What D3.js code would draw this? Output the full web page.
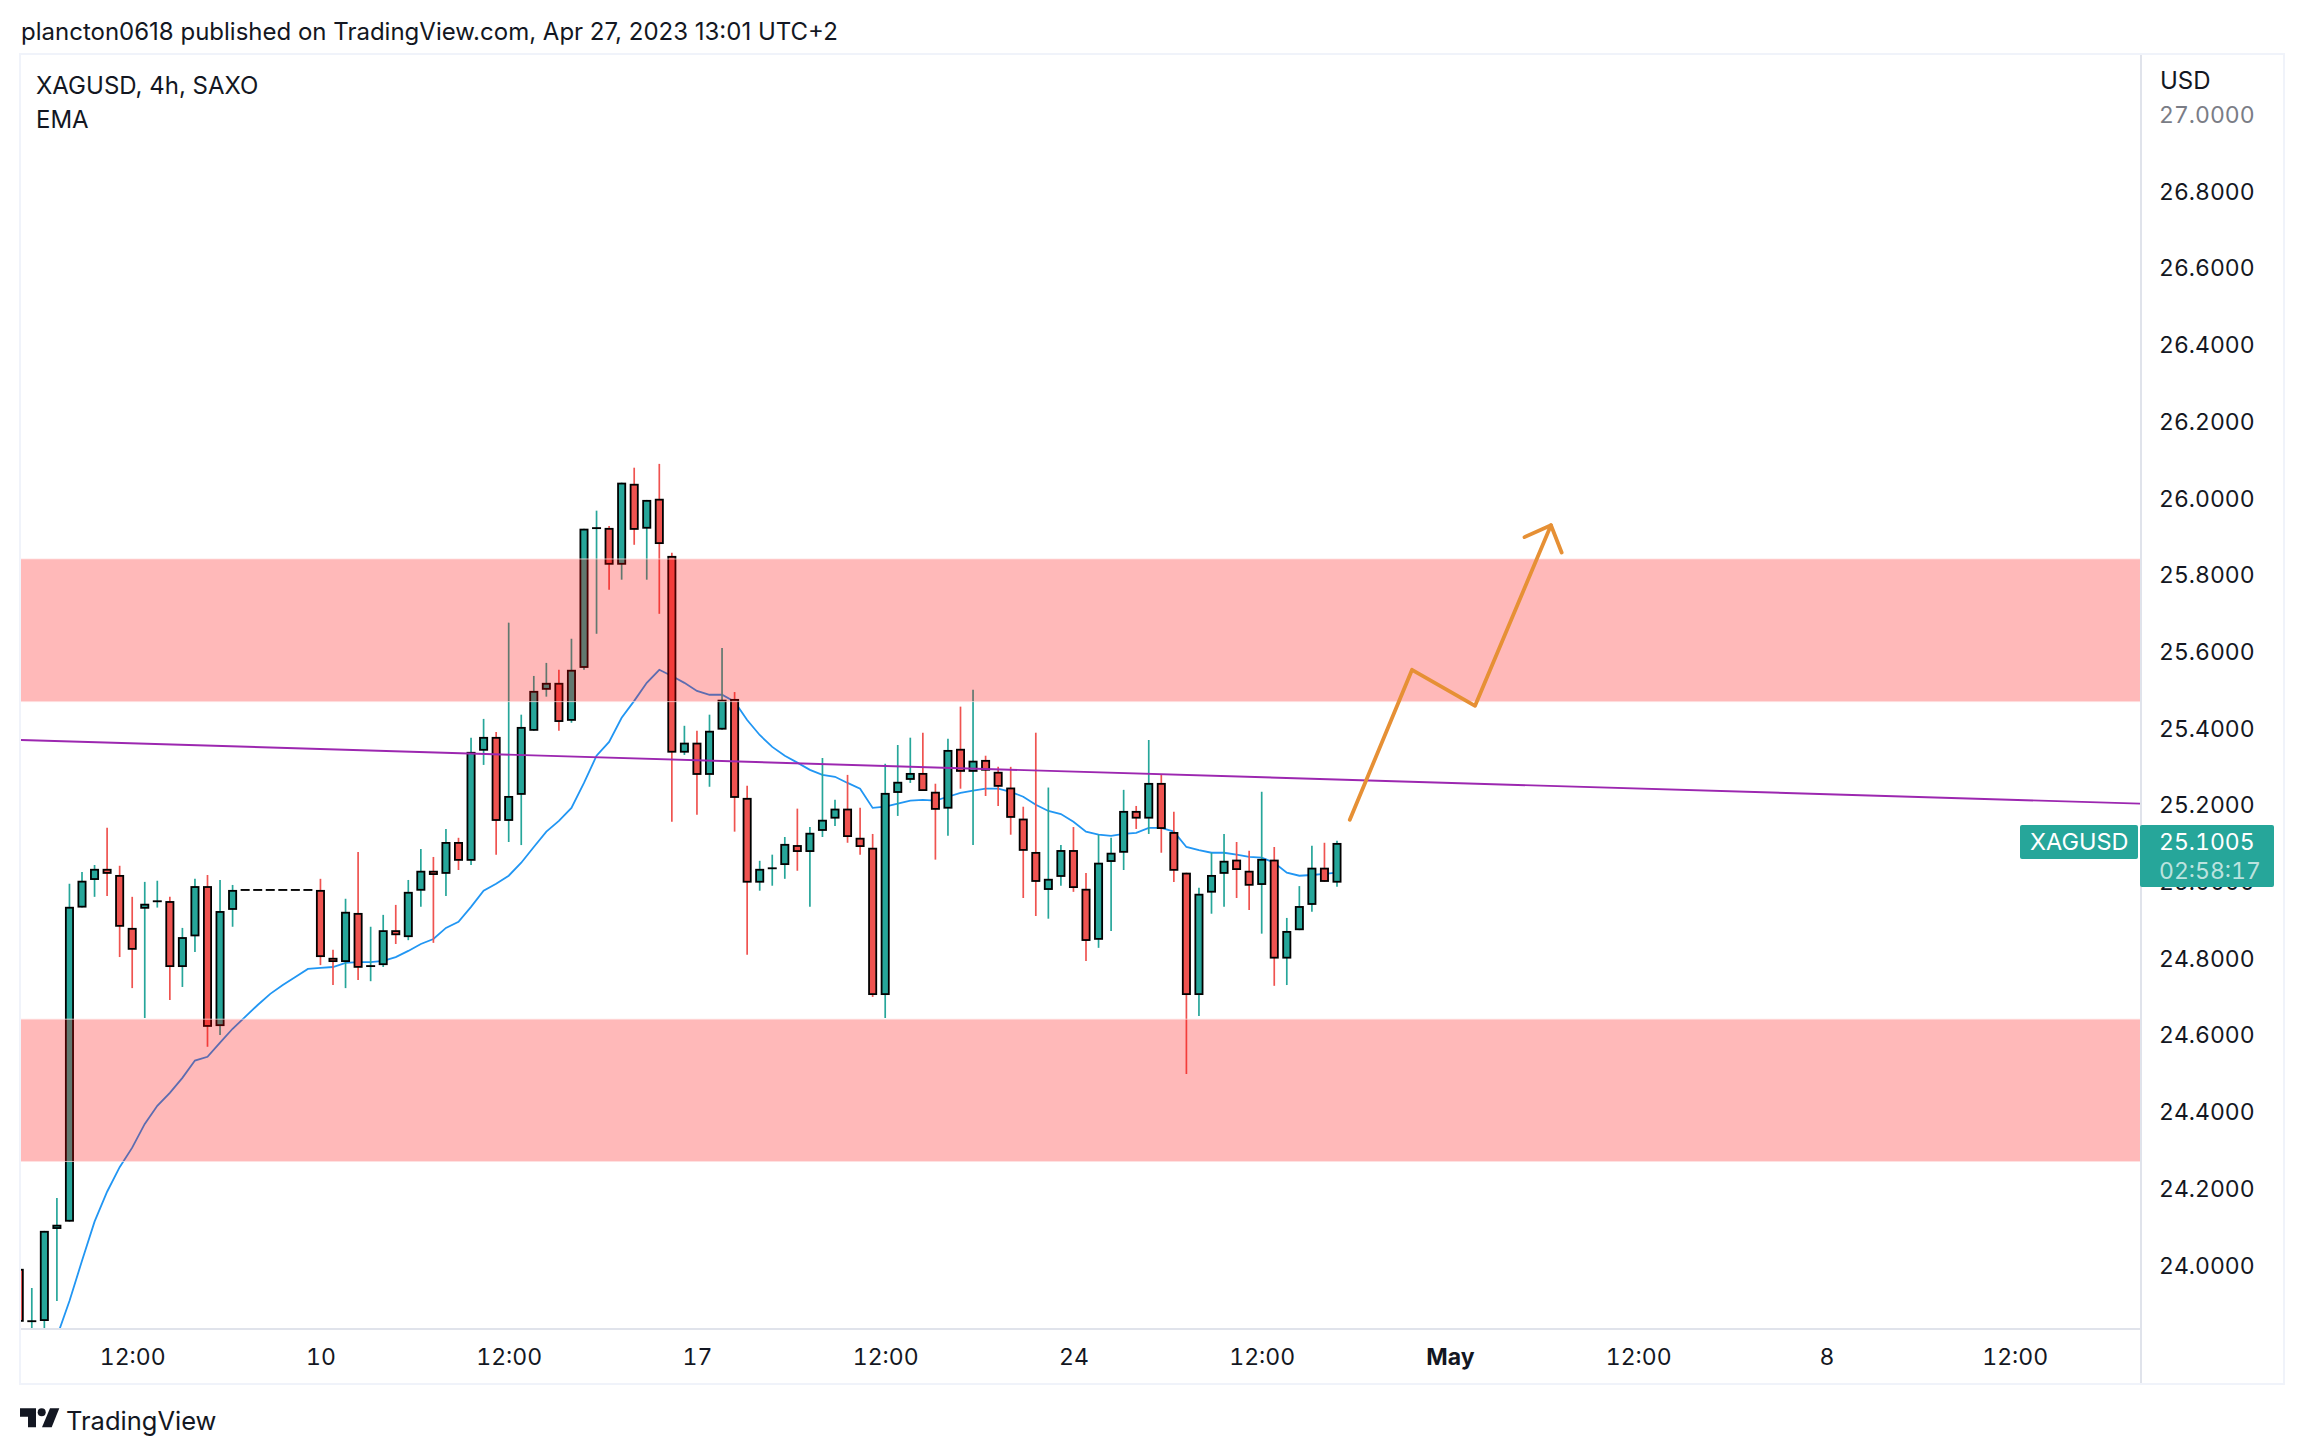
<!DOCTYPE html>
<html>
<head>
<meta charset="utf-8">
<script src="https://cdn.jsdelivr.net/npm/d3@7"></script>
<style>
  html, body { margin: 0; padding: 0; background: #fff; }
  svg { display: block; }
  text { font-family: Inter, "Noto Sans", sans-serif; fill: #131722; }
  .num text, text.num { font-variant-numeric: tabular-nums; }
</style>
</head>
<body>
<svg id="chart" width="2304" height="1454"></svg>
<script>
// bar index 0 is the first (cut off) candle, bars 18-23 are flat bars without trades
var opens = [23.990,23.853,23.854,24.094,24.113,24.932,25.004,25.033,25.017,24.879,24.929,24.948,24.949,24.777,24.857,24.988,24.623,24.926,
  24.978,24.978,24.978,24.978,24.978,24.978,
  24.978,24.801,24.790,24.918,24.779,24.782,24.873,24.855,24.976,25.028,25.020,25.103,25.054,25.341,25.377,25.158,25.226,25.393,25.500,25.518,25.419,25.557,25.921,25.922,25.826,26.037,25.920,25.998,
  25.849,25.336,25.362,25.278,25.396,25.476,25.218,24.997,25.034,25.043,25.095,25.077,25.132,25.164,25.190,25.114,25.088,24.704,25.231,25.265,25.283,25.234,25.190,25.346,25.286,25.317,25.286,25.245,25.164,25.077,24.978,25.012,25.082,24.981,24.848,25.051,25.075,25.184,25.164,25.257,25.129,25.023,24.704,24.971,25.020,25.057,25.028,24.991,25.057,24.799,24.873,24.939,25.036,24.997];
var highs = [23.998,23.940,24.089,24.175,24.994,25.025,25.043,25.140,25.041,24.960,24.999,25.002,24.960,24.879,25.007,25.017,25.004,24.991,
  24.978,24.978,24.978,24.978,24.978,24.978,
  25.007,24.822,24.955,25.077,24.882,24.913,24.939,25.004,25.085,25.064,25.137,25.114,25.375,25.424,25.390,25.675,25.435,25.536,25.570,25.552,25.633,25.920,25.967,25.927,26.040,26.079,25.995,26.089,
  25.857,25.406,25.393,25.435,25.609,25.494,25.250,25.054,25.070,25.116,25.190,25.142,25.322,25.213,25.278,25.192,25.124,25.307,25.356,25.375,25.388,25.255,25.372,25.456,25.500,25.328,25.299,25.299,25.195,25.388,25.245,25.095,25.142,25.022,25.122,25.114,25.239,25.197,25.369,25.278,25.182,25.023,24.984,25.075,25.124,25.103,25.080,25.234,25.090,24.905,24.988,25.093,25.101,25.106];
var lows = [23.831,23.818,23.818,23.906,24.113,24.932,24.960,24.962,24.803,24.722,24.644,24.932,24.691,24.725,24.816,24.569,24.600,24.882,
  24.978,24.978,24.978,24.978,24.978,24.978,
  24.782,24.730,24.722,24.743,24.740,24.777,24.837,24.847,24.934,24.840,24.962,25.030,25.043,25.304,25.070,25.103,25.095,25.393,25.482,25.393,25.414,25.552,25.646,25.761,25.787,25.878,25.787,25.698,
  25.156,25.330,25.174,25.247,25.396,25.130,24.809,24.976,24.989,25.007,25.028,24.934,25.116,25.145,25.101,25.070,24.699,24.644,25.171,25.257,25.236,25.057,25.119,25.242,25.095,25.223,25.197,25.122,24.957,24.910,24.903,24.989,24.973,24.793,24.827,24.871,25.030,25.137,25.124,25.075,24.999,24.498,24.649,24.916,24.934,24.957,24.926,24.864,24.728,24.730,24.873,24.921,24.999,24.986];
var closes = [23.852,23.854,24.089,24.105,24.934,25.002,25.033,25.020,24.882,24.822,24.942,24.949,24.777,24.855,24.988,24.621,24.923,24.978,
  24.978,24.978,24.978,24.978,24.978,24.978,
  24.803,24.790,24.921,24.775,24.780,24.873,24.860,24.973,25.028,25.017,25.103,25.054,25.338,25.377,25.158,25.223,25.403,25.497,25.518,25.416,25.552,25.920,25.922,25.826,26.040,25.917,25.995,25.880,
  25.336,25.362,25.278,25.393,25.474,25.218,24.997,25.033,25.035,25.098,25.077,25.127,25.161,25.190,25.116,25.090,24.704,25.231,25.260,25.283,25.236,25.187,25.343,25.286,25.315,25.289,25.247,25.166,25.080,24.999,25.007,25.082,24.983,24.845,25.049,25.075,25.184,25.164,25.257,25.137,25.028,24.704,24.968,25.017,25.054,25.030,24.989,25.059,24.799,24.871,24.936,25.036,24.999,25.1005];

// EMA starts at bar 3
var emaStart = 3;
var emaValues = [23.813,23.906,24.011,24.113,24.191,24.255,24.306,24.368,24.415,24.449,24.488,24.533,24.543,24.580,24.616,
  24.647,24.678,24.707,24.730,24.751,24.772,24.775,24.777,24.788,24.790,24.790,24.793,24.803,24.819,24.837,24.850,24.879,24.895,24.934,24.976,24.994,25.015,25.049,25.090,25.130,25.158,25.192,25.257,25.328,25.364,25.427,25.471,25.518,25.552,
  25.536,25.518,25.497,25.487,25.487,25.469,25.421,25.382,25.351,25.328,25.310,25.291,25.278,25.273,25.257,25.242,25.192,25.195,25.203,25.211,25.213,25.211,25.221,25.231,25.237,25.242,25.242,25.234,25.221,25.200,25.184,25.176,25.156,25.130,25.122,25.119,25.124,25.127,25.140,25.140,25.130,25.090,25.082,25.075,25.075,25.070,25.064,25.062,25.049,25.023,25.015,25.017,25.020,25.023];

// drawings on the chart, as [bar, price]
var zoneTop = [25.841, 25.469];
var zoneBottom = [24.641, 24.270];
var trendBars = [0.06, 169.07];
var trendPrices = [25.369, 25.203];
var arrowBars = [106.02, 110.98, 116.0, 122.05];
var arrowPrices = [25.161, 25.552, 25.458, 25.929];
var arrowHeadBars = [119.94, 122.05, 122.9];
var arrowHeadPrices = [25.898, 25.929, 25.858];

var priceTicks = [24,24.2,24.4,24.6,24.8,25,25.2,25.4,25.6,25.8,26,26.2,26.4,26.6,26.8,27];
var timeBars = [9,24,39,54,69,84,99,114,129,144,159];
var timeLabels = ["12:00","10","12:00","17","12:00","24","12:00","May","12:00","8","12:00"];

var lastPrice = 25.1005;
var upColor = "#26a69a", downColor = "#ef5350";

var svg = d3.select("#chart");
var scX = d3.scaleLinear().domain([0, 105]).range([19.25, 1337]);
var scY = d3.scaleLinear().domain([24, 27]).range([1265, 114.5]);

// outer frame and pane separators
svg.append("rect").attr("x", 20).attr("y", 54).attr("width", 2264).attr("height", 1330)
    .attr("fill", "none").attr("stroke", "#f0f3fa").attr("stroke-width", 2);
svg.append("line").attr("x1", 2141).attr("x2", 2141).attr("y1", 55).attr("y2", 1383)
    .attr("stroke", "#e0e3eb").attr("stroke-width", 2);
svg.append("line").attr("x1", 21).attr("x2", 2141).attr("y1", 1329).attr("y2", 1329)
    .attr("stroke", "#e0e3eb").attr("stroke-width", 2);

svg.append("clipPath").attr("id", "pane").append("rect")
    .attr("x", 21).attr("y", 55).attr("width", 2119).attr("height", 1273);
var pane = svg.append("g").attr("clip-path", "url(#pane)");

// EMA goes under the candles
var emaLine = d3.line().x((d, i) => scX(i + emaStart)).y(d => scY(d));
pane.append("path").datum(emaValues).attr("d", emaLine)
    .attr("fill", "none").attr("stroke", "#2196f3").attr("stroke-width", 1.8);

var bars = d3.range(opens.length);
var barColor = i => closes[i] >= opens[i] ? upColor : downColor;

pane.selectAll(".wick").data(bars).enter().append("line")
    .classed("wick", true)
    .attr("x1", i => scX(i)).attr("x2", i => scX(i))
    .attr("y1", i => scY(highs[i])).attr("y2", i => scY(lows[i]))
    .attr("stroke", barColor).attr("stroke-width", 1.7);

// body values are read at the outer edge of the black outline, flat bars stay a thin dash
var outline = 1.8;
pane.selectAll(".body").data(bars).enter().append("rect")
    .classed("body", true)
    .attr("x", i => scX(i) - 3.6).attr("width", 7.2)
    .attr("y", i => Math.min(scY(opens[i]), scY(closes[i])) + Math.min(outline / 2, Math.abs(scY(opens[i]) - scY(closes[i])) / 2))
    .attr("height", i => Math.max(0.05, Math.abs(scY(opens[i]) - scY(closes[i])) - outline))
    .attr("fill", barColor).attr("stroke", "#000").attr("stroke-width", outline);

// red zones lie over the candles
[zoneTop, zoneBottom].forEach(function(z) {
    pane.append("rect")
        .attr("x", 21).attr("width", 2119)
        .attr("y", scY(z[0])).attr("height", scY(z[1]) - scY(z[0]))
        .attr("fill", "rgba(255,0,0,0.275)");
    z.forEach(function(p) {
        pane.append("line").attr("x1", 21).attr("x2", 2140).attr("y1", scY(p)).attr("y2", scY(p))
            .attr("stroke", "rgba(255,225,225,0.7)").attr("stroke-width", 1);
    });
});

var pairLine = d3.line().x(d => scX(d[0])).y(d => scY(d[1]));
pane.append("path").attr("d", pairLine(d3.zip(trendBars, trendPrices)))
    .attr("fill", "none").attr("stroke", "#9c27b0").attr("stroke-width", 1.9);

pane.append("path").attr("d", pairLine(d3.zip(arrowBars, arrowPrices)))
    .attr("fill", "none").attr("stroke", "#e69035").attr("stroke-width", 3.8)
    .attr("stroke-linecap", "round").attr("stroke-linejoin", "round");
pane.append("path").attr("d", pairLine(d3.zip(arrowHeadBars, arrowHeadPrices)))
    .attr("fill", "none").attr("stroke", "#e69035").attr("stroke-width", 3.8)
    .attr("stroke-linecap", "round").attr("stroke-linejoin", "round");

// price axis
var axisY = d3.axisRight(scY).tickValues(priceTicks).tickFormat(d3.format(".4f")).tickSize(0).tickPadding(18);
var gY = svg.append("g").classed("num", true).attr("transform", "translate(2141,0)").call(axisY);
gY.select(".domain").remove();
gY.selectAll("text").attr("font-size", 23).style("font-family", "Inter").attr("dy", "0.35em")
    .style("fill", d => d === 27 ? "#7a7d86" : "#131722");

// time axis
var axisX = d3.axisBottom(scX).tickValues(timeBars).tickFormat((d, i) => timeLabels[i]).tickSize(0).tickPadding(20);
var gX = svg.append("g").classed("num", true).attr("transform", "translate(0,1329)").call(axisX);
gX.select(".domain").remove();
gX.selectAll("text").attr("font-size", 23).style("font-family", "Inter")
    .attr("font-weight", d => d === 114 ? 700 : 400);

// last price tags
svg.append("rect").attr("x", 2020).attr("y", 825).attr("width", 118).attr("height", 34).attr("rx", 2)
    .attr("fill", upColor);
svg.append("rect").attr("x", 2140).attr("y", 825).attr("width", 134).attr("height", 62).attr("rx", 2)
    .attr("fill", upColor);
svg.append("text").attr("x", 2030).attr("y", 850).attr("font-size", 23.5).style("fill", "#fff").text("XAGUSD");
svg.append("text").classed("num", true).attr("x", 2159).attr("y", 850).attr("font-size", 23).style("fill", "#fff")
    .text(lastPrice.toFixed(4));
svg.append("text").classed("num", true).attr("x", 2159).attr("y", 879).attr("font-size", 23).style("fill", "#fff")
    .style("fill-opacity", 0.7).text("02:58:17");

// texts
svg.append("text").attr("x", 2160).attr("y", 89).attr("font-size", 24).text("USD");
svg.append("text").attr("x", 21).attr("y", 40).attr("font-size", 24).text("plancton0618 published on TradingView.com, Apr 27, 2023 13:01 UTC+2");
svg.append("text").attr("x", 36).attr("y", 94).attr("font-size", 24).text("XAGUSD, 4h, SAXO");
svg.append("text").attr("x", 36).attr("y", 128).attr("font-size", 24).text("EMA");

// TradingView logo
var logo = svg.append("g").attr("fill", "#131722");
logo.append("path").attr("d", "M20 1408.3H36V1427.3H28V1416.7H20Z");
logo.append("circle").attr("cx", 41.7).attr("cy", 1412.3).attr("r", 4);
logo.append("path").attr("d", "M50 1408.3H59.3L51.7 1427.3H42Z");
svg.append("text").attr("x", 66).attr("y", 1430).attr("font-size", 25.5).text("TradingView");
</script>
</body>
</html>
